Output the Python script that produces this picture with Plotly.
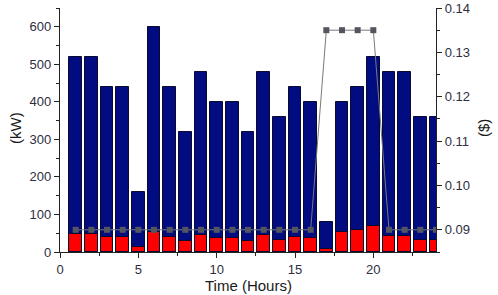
import plotly.graph_objects as go

hours = list(range(1, 25))
load_kw = [520, 520, 440, 440, 160, 600, 440, 320, 480, 400, 400, 320,
           480, 360, 440, 400, 80, 400, 440, 520, 480, 480, 360, 360]
cost_kw = [47, 47, 39, 39, 14, 54, 39, 28, 44, 36, 36, 28,
           44, 31, 39, 36, 9, 52, 59, 69, 43, 43, 31, 31]
price = [0.09] * 16 + [0.135] * 4 + [0.09] * 4

tick_font = dict(family="Liberation Sans, Arial, sans-serif", size=13, color="#2e2e40")
title_font = dict(family="Liberation Sans, Arial, sans-serif", size=15, color="#1a1a1a")

fig = go.Figure()
fig.add_trace(go.Bar(x=hours, y=load_kw, width=0.82,
                     marker=dict(color="#000c80", line=dict(color="#0a0a30", width=1)),
                     showlegend=False))
fig.add_trace(go.Bar(x=hours, y=cost_kw, width=0.82,
                     marker=dict(color="#ff0000", line=dict(color="#0a0a30", width=1)),
                     showlegend=False))
fig.add_trace(go.Scatter(x=hours, y=price, yaxis="y2", mode="lines+markers",
                         line=dict(color="#7a7a7a", width=1),
                         marker=dict(symbol="square", size=6, color="#555560"),
                         showlegend=False))

axis_common = dict(showline=True, linecolor="#222", linewidth=1.2, ticks="outside",
                   tickcolor="#222", ticklen=5, showgrid=False, zeroline=False,
                   tickfont=tick_font, automargin=False)

W, H = 498, 295
l, r, t, b = 60, 62, 8, 43
pw, ph = W - l - r, H - t - b


def px_to_paper(px, py):
    return (px - l) / pw, (H - b - py) / ph


tx, ty = px_to_paper(248, 285)
kx, ky = px_to_paper(15, 128)
dx, dy = px_to_paper(483, 128)

fig.update_layout(
    width=W, height=H,
    margin=dict(l=l, r=r, t=t, b=b),
    plot_bgcolor="white", paper_bgcolor="white",
    barmode="overlay", bargap=0,
    xaxis=dict(range=[0, 24], dtick=5, tick0=0,
               minor=dict(dtick=2.5, ticks="outside", ticklen=3, tickcolor="#222"),
               **axis_common),
    xaxis2=dict(range=[0, 24], dtick=5, tick0=0, overlaying="x", side="top",
                anchor="y", showline=True, linecolor="#222", linewidth=1.2,
                ticks="inside", ticklen=4, tickcolor="#222", showticklabels=False,
                showgrid=False, zeroline=False,
                minor=dict(dtick=2.5, ticks="inside", ticklen=3, tickcolor="#222")),
    yaxis=dict(range=[0, 650], dtick=100,
               minor=dict(dtick=50, ticks="outside", ticklen=3, tickcolor="#222"),
               **axis_common),
    yaxis2=dict(range=[0.085, 0.14], dtick=0.01, overlaying="y", side="right",
                tickformat=".2f",
                minor=dict(dtick=0.005, ticks="outside", ticklen=3, tickcolor="#222"),
                **axis_common),
    annotations=[
        dict(text="Time (Hours)", x=tx, y=ty, xref="paper", yref="paper",
             xanchor="center", yanchor="middle", showarrow=False, font=title_font),
        dict(text="(kW)", x=kx, y=ky, xref="paper", yref="paper", textangle=-90,
             xanchor="center", yanchor="middle", showarrow=False, font=title_font),
        dict(text="($)", x=dx, y=dy, xref="paper", yref="paper", textangle=-90,
             xanchor="center", yanchor="middle", showarrow=False, font=title_font),
    ],
)

fig.write_html("out.html", config={"displayModeBar": False},
               post_script="document.body.style.margin='0';")
